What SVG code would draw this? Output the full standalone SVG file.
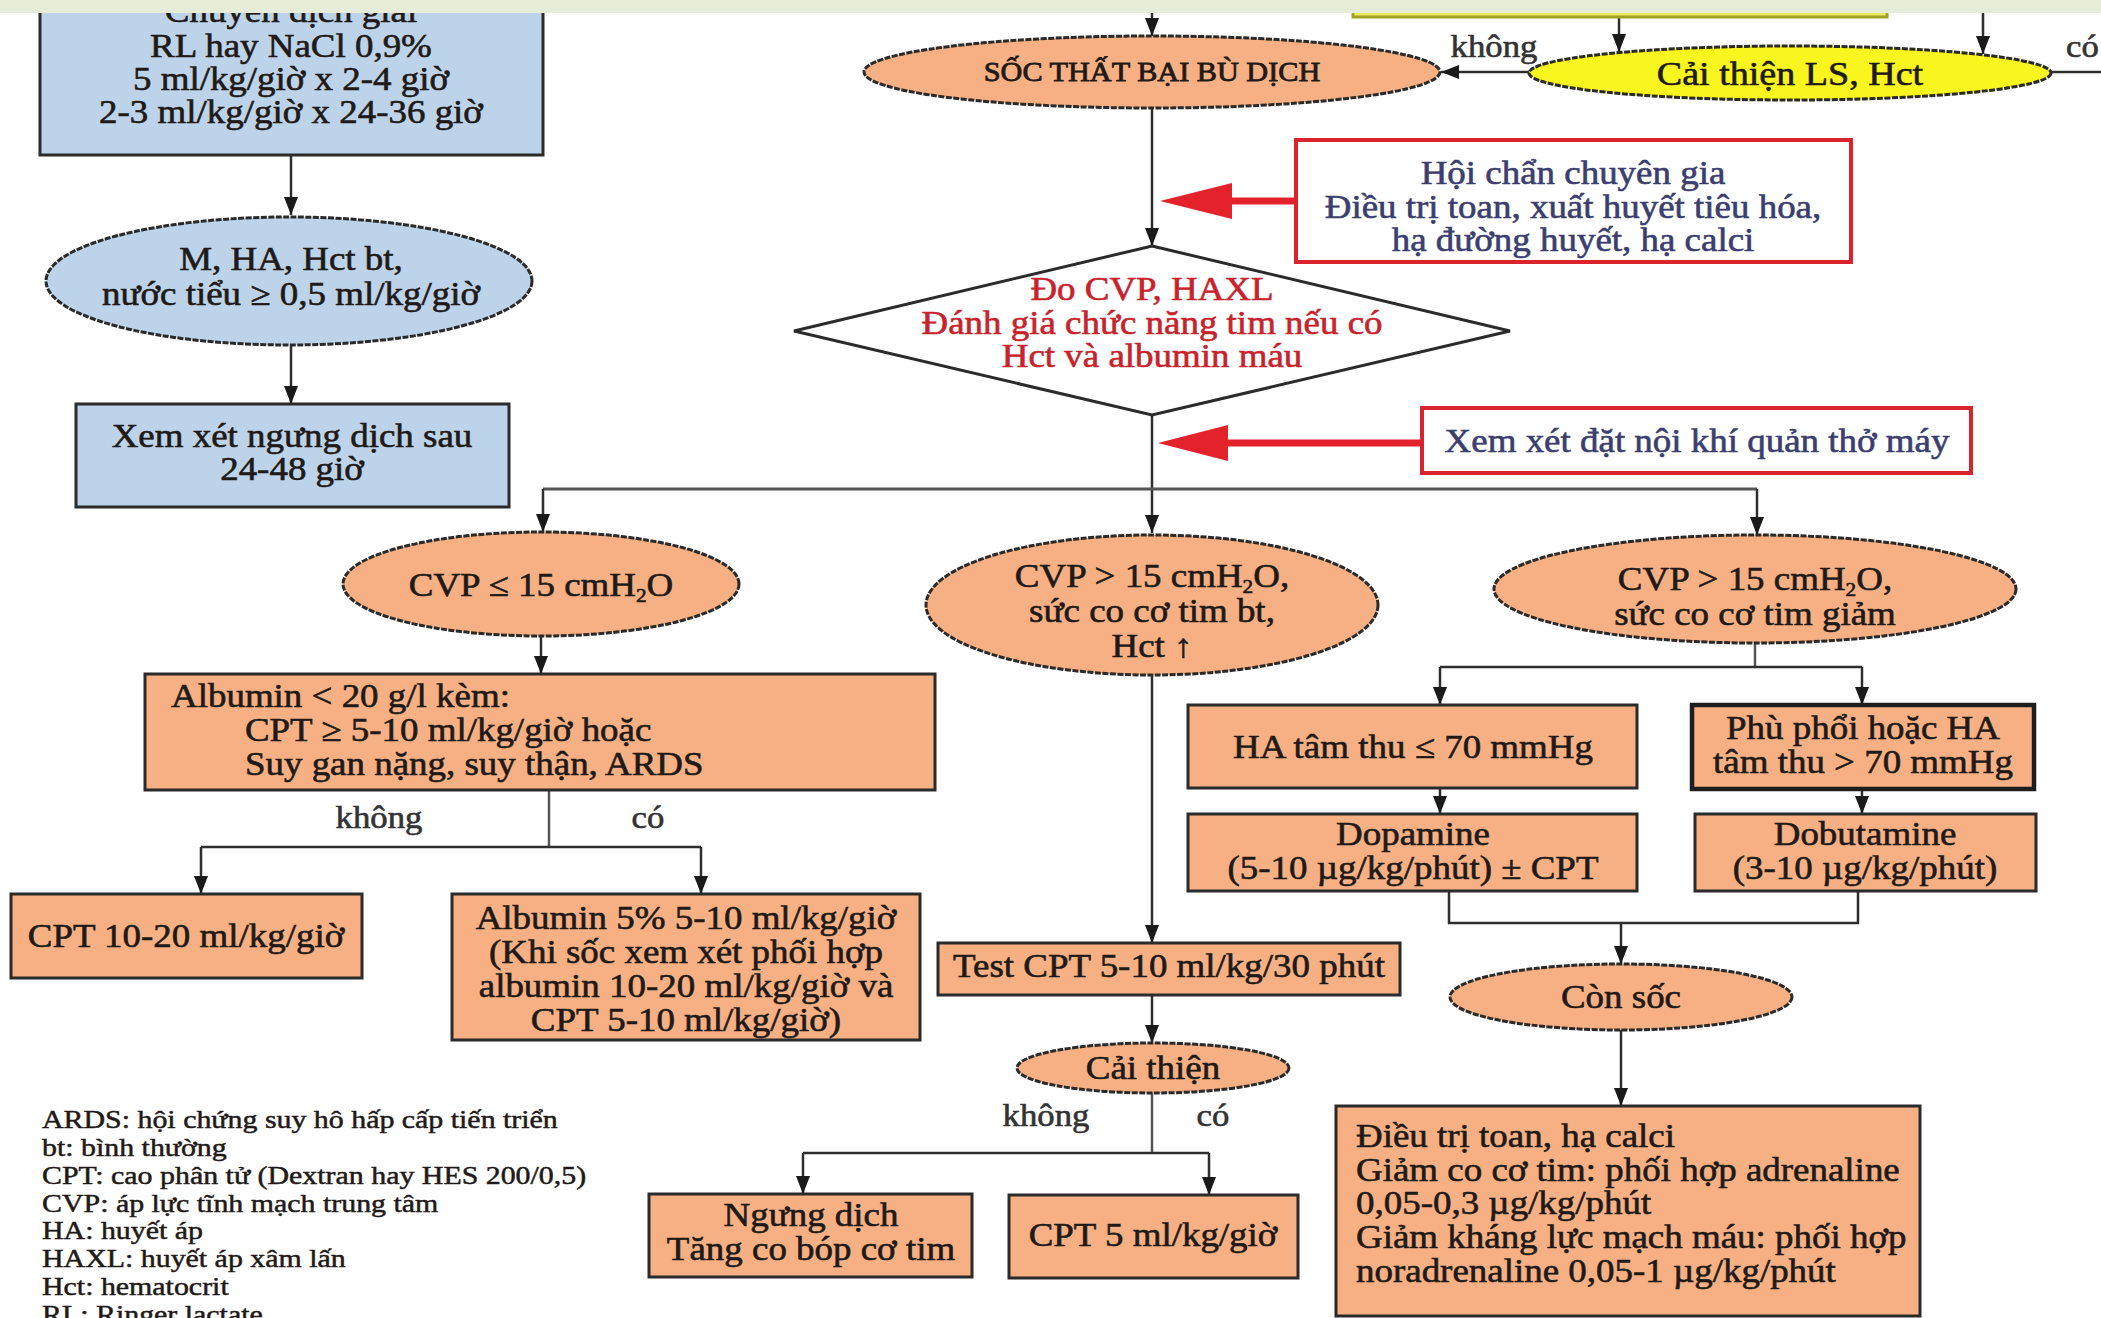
<svg xmlns="http://www.w3.org/2000/svg" width="2101" height="1318" viewBox="0 0 2101 1318">
<defs>
<style>
.t{font-family:"Liberation Serif","Times New Roman",serif;font-size:33px;fill:#1f1a17;stroke:#1f1a17;stroke-width:0.6;text-anchor:middle}
.tl{font-family:"Liberation Serif","Times New Roman",serif;font-size:33px;fill:#1f1a17;stroke:#1f1a17;stroke-width:0.6;text-anchor:start}
.lg{font-family:"Liberation Serif","Times New Roman",serif;font-size:26px;fill:#1f1a17;stroke:#1f1a17;stroke-width:0.5;text-anchor:start}
.rt{fill:#3b3e6e;stroke:#3b3e6e}
.dt{fill:#c8232c;stroke:#c8232c}
.lab{font-size:31px;fill:#333;stroke:#333}
.box{fill:#f6b084;stroke:#2b2b2b;stroke-width:3}
.bbox{fill:#bcd3ea;stroke:#2b2b2b;stroke-width:3}
.ell{fill:#f6b084;stroke:#2a2a2a;stroke-width:3;stroke-dasharray:6 1.5}
.bell{fill:#bcd3ea;stroke:#2a2a2a;stroke-width:3;stroke-dasharray:6 1.5}
.yell{fill:#f9f51e;stroke:#2a2a2a;stroke-width:3;stroke-dasharray:6 1.5}
.rbox{fill:#fff;stroke:#d9232d;stroke-width:4}
.ln{fill:none;stroke:#2e2e2e;stroke-width:2.5}
.la{fill:none;stroke:#2e2e2e;stroke-width:2.5;marker-end:url(#ah)}
.rs{fill:none;stroke:#e3222c;stroke-width:7}
.rh{fill:#e3222c}
</style>
<marker id="ah" viewBox="0 0 18 14" markerUnits="userSpaceOnUse" markerWidth="18" markerHeight="14" refX="18" refY="7" orient="auto">
<path d="M0,0 L18,7 L0,14 z" fill="#1a1a1a"/>
</marker>
</defs>
<rect x="0" y="0" width="2101" height="1318" fill="#ffffff"/>

<g id="connectors">
<line class="la" x1="291" y1="155" x2="291" y2="215"/>
<line class="la" x1="291" y1="345" x2="291" y2="404"/>
<line class="la" x1="1152" y1="10" x2="1152" y2="36"/>
<line class="la" x1="1619" y1="17" x2="1619" y2="52"/>
<line class="la" x1="1983" y1="10" x2="1983" y2="54"/>
<line class="la" x1="1529" y1="72" x2="1441" y2="72"/>
<line class="ln" x1="2051" y1="72" x2="2101" y2="72"/>
<line class="la" x1="1152" y1="108" x2="1152" y2="246"/>
<line class="ln" x1="1152" y1="415" x2="1152" y2="489"/>
<line class="la" x1="1152" y1="489" x2="1152" y2="533"/>
<line class="ln" x1="543" y1="489" x2="1757" y2="489" style="stroke:#555;stroke-width:3"/>
<line class="la" x1="543" y1="489" x2="543" y2="532"/>
<line class="la" x1="1757" y1="489" x2="1757" y2="535"/>
<line class="la" x1="541" y1="636" x2="541" y2="674"/>
<line class="ln" x1="549" y1="790" x2="549" y2="847" style="stroke:#555"/>
<line class="ln" x1="201" y1="847" x2="701" y2="847"/>
<line class="la" x1="201" y1="847" x2="201" y2="894"/>
<line class="la" x1="701" y1="847" x2="701" y2="894"/>
<line class="la" x1="1152" y1="675" x2="1152" y2="943"/>
<line class="ln" x1="1755" y1="643" x2="1755" y2="667" style="stroke:#555"/>
<line class="ln" x1="1440" y1="667" x2="1862" y2="667"/>
<line class="la" x1="1440" y1="667" x2="1440" y2="705"/>
<line class="la" x1="1862" y1="667" x2="1862" y2="705"/>
<line class="la" x1="1440" y1="788" x2="1440" y2="814"/>
<line class="la" x1="1862" y1="788" x2="1862" y2="814"/>
<polyline class="ln" points="1449,891 1449,923 1858,923 1858,891"/>
<line class="la" x1="1621" y1="923" x2="1621" y2="964"/>
<line class="la" x1="1621" y1="1030" x2="1621" y2="1106"/>
<line class="la" x1="1152" y1="995" x2="1152" y2="1043"/>
<line class="ln" x1="1152" y1="1093" x2="1152" y2="1153" style="stroke:#555"/>
<line class="ln" x1="803" y1="1153" x2="1209" y2="1153"/>
<line class="la" x1="803" y1="1153" x2="803" y2="1194"/>
<line class="la" x1="1209" y1="1153" x2="1209" y2="1195"/>
<line class="rs" x1="1296" y1="201" x2="1226" y2="201"/>
<polygon class="rh" points="1160,201 1232,183 1232,219"/>
<line class="rs" x1="1422" y1="443" x2="1222" y2="443"/>
<polygon class="rh" points="1158,443 1228,425 1228,461"/>
<text class="t lab" transform="matrix(1.12 0 0 1 1494 0)" y="57">không</text>
<text class="tl lab" transform="matrix(1.12 0 0 1 2066 0)" y="57">có</text>
<text class="t lab" transform="matrix(1.12 0 0 1 379 0)" y="828">không</text>
<text class="t lab" transform="matrix(1.12 0 0 1 648 0)" y="828">có</text>
<text class="t lab" transform="matrix(1.12 0 0 1 1046 0)" y="1126">không</text>
<text class="t lab" transform="matrix(1.12 0 0 1 1213 0)" y="1126">có</text>
</g>

<g id="n-chuyen">
<rect class="bbox" x="40" y="-20" width="503" height="175"/>
<text class="t" transform="matrix(1.12 0 0 1 291 0)"><tspan x="0" y="22">Chuyển dịch giải</tspan><tspan x="0" y="57">RL hay NaCl 0,9%</tspan><tspan x="0" y="90">5 ml/kg/giờ x 2-4 giờ</tspan><tspan x="0" y="123">2-3 ml/kg/giờ x 24-36 giờ</tspan></text>
</g>
<g id="n-mha">
<ellipse class="bell" cx="289" cy="281" rx="243" ry="64"/>
<text class="t" transform="matrix(1.12 0 0 1 291 0)"><tspan x="0" y="270">M, HA, Hct bt,</tspan><tspan x="0" y="305">nước tiểu ≥ 0,5 ml/kg/giờ</tspan></text>
</g>
<g id="n-xemxet">
<rect class="bbox" x="76" y="404" width="433" height="103"/>
<text class="t" transform="matrix(1.12 0 0 1 292 0)"><tspan x="0" y="447">Xem xét ngưng dịch sau</tspan><tspan x="0" y="480">24-48 giờ</tspan></text>
</g>
<g id="n-topbox">
<rect x="1353" y="-20" width="534" height="37" fill="#e9ea5c" stroke="#9fa324" stroke-width="3"/>
</g>
<g id="n-soc">
<ellipse class="ell" cx="1152" cy="72" rx="288" ry="36"/>
<text class="t" transform="matrix(1.12 0 0 1 1152 0)" y="81" style="font-size:27px;stroke-width:0.8">SỐC THẤT BẠI BÙ DỊCH</text>
</g>
<g id="n-caithienls">
<ellipse class="yell" cx="1790" cy="73" rx="261" ry="27"/>
<text class="t" transform="matrix(1.12 0 0 1 1790 0)" y="85" style="font-size:34px">Cải thiện LS, Hct</text>
</g>
<g id="n-hoichan">
<rect class="rbox" x="1296" y="140" width="555" height="122"/>
<text class="t rt" transform="matrix(1.12 0 0 1 1573 0)"><tspan x="0" y="184">Hội chẩn chuyên gia</tspan><tspan x="0" y="218">Điều trị toan, xuất huyết tiêu hóa,</tspan><tspan x="0" y="251">hạ đường huyết, hạ calci</tspan></text>
</g>
<g id="n-do">
<polygon points="1152,246 1510,331 1152,415 794,331" fill="#fff" stroke="#2b2b2b" stroke-width="3"/>
<text class="t dt" transform="matrix(1.12 0 0 1 1152 0)"><tspan x="0" y="300">Đo CVP, HAXL</tspan><tspan x="0" y="334">Đánh giá chức năng tim nếu có</tspan><tspan x="0" y="367">Hct và albumin máu</tspan></text>
</g>
<g id="n-noikhi">
<rect class="rbox" x="1422" y="408" width="549" height="65"/>
<text class="t rt" transform="matrix(1.12 0 0 1 1697 0)" y="452">Xem xét đặt nội khí quản thở máy</text>
</g>
<g id="n-cvp1">
<ellipse class="ell" cx="541" cy="584" rx="198" ry="52"/>
<text class="t" transform="matrix(1.12 0 0 1 541 0)" y="596">CVP ≤ 15 cmH<tspan style="font-size:19px" dy="6">2</tspan><tspan dy="-6">O</tspan></text>
</g>
<g id="n-cvp2">
<ellipse class="ell" cx="1152" cy="605" rx="226" ry="70"/>
<text class="t" transform="matrix(1.12 0 0 1 1152 0)"><tspan x="0" y="587">CVP &gt; 15 cmH<tspan style="font-size:19px" dy="6">2</tspan><tspan dy="-6">O,</tspan></tspan><tspan x="0" y="622">sức co cơ tim bt,</tspan><tspan x="0" y="657">Hct ↑</tspan></text>
</g>
<g id="n-cvp3">
<ellipse class="ell" cx="1755" cy="589" rx="261" ry="54"/>
<text class="t" transform="matrix(1.12 0 0 1 1755 0)"><tspan x="0" y="590">CVP &gt; 15 cmH<tspan style="font-size:19px" dy="6">2</tspan><tspan dy="-6">O,</tspan></tspan><tspan x="0" y="625">sức co cơ tim giảm</tspan></text>
</g>
<g id="n-albumin">
<rect class="box" x="145" y="674" width="790" height="116"/>
<text class="tl" transform="matrix(1.12 0 0 1 171 0)"><tspan x="0" y="707">Albumin &lt; 20 g/l kèm:</tspan><tspan x="66" y="741">CPT ≥ 5-10 ml/kg/giờ hoặc</tspan><tspan x="66" y="775">Suy gan nặng, suy thận, ARDS</tspan></text>
</g>
<g id="n-cpt1020">
<rect class="box" x="11" y="894" width="351" height="84"/>
<text class="t" transform="matrix(1.12 0 0 1 186 0)" y="947">CPT 10-20 ml/kg/giờ</text>
</g>
<g id="n-alb5">
<rect class="box" x="452" y="894" width="468" height="146"/>
<text class="t" transform="matrix(1.12 0 0 1 686 0)"><tspan x="0" y="929">Albumin 5% 5-10 ml/kg/giờ</tspan><tspan x="0" y="963">(Khi sốc xem xét phối hợp</tspan><tspan x="0" y="997">albumin 10-20 ml/kg/giờ và</tspan><tspan x="0" y="1031">CPT 5-10 ml/kg/giờ)</tspan></text>
</g>
<g id="n-hatamthu">
<rect class="box" x="1188" y="705" width="449" height="83"/>
<text class="t" transform="matrix(1.12 0 0 1 1413 0)" y="758">HA tâm thu ≤ 70 mmHg</text>
</g>
<g id="n-dopamine">
<rect class="box" x="1188" y="814" width="449" height="77"/>
<text class="t" transform="matrix(1.12 0 0 1 1413 0)"><tspan x="0" y="845">Dopamine</tspan><tspan x="0" y="879">(5-10 µg/kg/phút) ± CPT</tspan></text>
</g>
<g id="n-phuphoi">
<rect class="box" x="1692" y="705" width="342" height="84" style="stroke-width:4.5;stroke:#1e1e1e"/>
<text class="t" transform="matrix(1.12 0 0 1 1863 0)"><tspan x="0" y="739">Phù phổi hoặc HA</tspan><tspan x="0" y="773">tâm thu &gt; 70 mmHg</tspan></text>
</g>
<g id="n-dobutamine">
<rect class="box" x="1695" y="814" width="341" height="77"/>
<text class="t" transform="matrix(1.12 0 0 1 1865 0)"><tspan x="0" y="845">Dobutamine</tspan><tspan x="0" y="879">(3-10 µg/kg/phút)</tspan></text>
</g>
<g id="n-conshock">
<ellipse class="ell" cx="1621" cy="997" rx="171" ry="33"/>
<text class="t" transform="matrix(1.12 0 0 1 1621 0)" y="1008">Còn sốc</text>
</g>
<g id="n-final">
<rect class="box" x="1336" y="1106" width="584" height="210"/>
<text class="tl" transform="matrix(1.12 0 0 1 1356 0)"><tspan x="0" y="1147">Điều trị toan, hạ calci</tspan><tspan x="0" y="1181">Giảm co cơ tim: phối hợp adrenaline</tspan><tspan x="0" y="1214">0,05-0,3 µg/kg/phút</tspan><tspan x="0" y="1248">Giảm kháng lực mạch máu: phối hợp</tspan><tspan x="0" y="1282">noradrenaline 0,05-1 µg/kg/phút</tspan></text>
</g>
<g id="n-test">
<rect class="box" x="938" y="943" width="462" height="52"/>
<text class="t" transform="matrix(1.12 0 0 1 1169 0)" y="977">Test CPT 5-10 ml/kg/30 phút</text>
</g>
<g id="n-caithien">
<ellipse class="ell" cx="1153" cy="1068" rx="136" ry="25"/>
<text class="t" transform="matrix(1.12 0 0 1 1153 0)" y="1079">Cải thiện</text>
</g>
<g id="n-ngung">
<rect class="box" x="649" y="1194" width="323" height="83"/>
<text class="t" transform="matrix(1.12 0 0 1 811 0)"><tspan x="0" y="1226">Ngưng dịch</tspan><tspan x="0" y="1260">Tăng co bóp cơ tim</tspan></text>
</g>
<g id="n-cpt5">
<rect class="box" x="1009" y="1195" width="289" height="83"/>
<text class="t" transform="matrix(1.12 0 0 1 1153 0)" y="1246">CPT 5 ml/kg/giờ</text>
</g>

<g id="legend">
<text class="lg" transform="matrix(1.15 0 0 1 42 0)"><tspan x="0" y="1128">ARDS: hội chứng suy hô hấp cấp tiến triển</tspan><tspan x="0" y="1156">bt: bình thường</tspan><tspan x="0" y="1184">CPT: cao phân tử (Dextran hay HES 200/0,5)</tspan><tspan x="0" y="1212">CVP: áp lực tĩnh mạch trung tâm</tspan><tspan x="0" y="1239">HA: huyết áp</tspan><tspan x="0" y="1267">HAXL: huyết áp xâm lấn</tspan><tspan x="0" y="1295">Hct: hematocrit</tspan><tspan x="0" y="1323">RL: Ringer lactate</tspan></text>
</g>

<rect id="band" x="0" y="0" width="2101" height="13" fill="#e5ecd7"/>
</svg>
